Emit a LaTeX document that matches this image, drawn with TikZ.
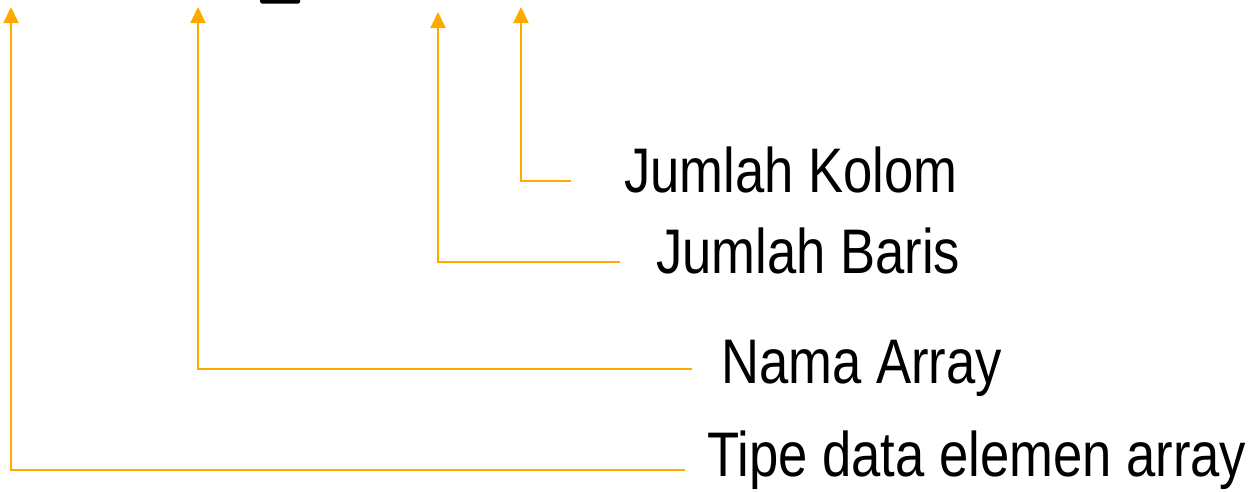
\documentclass[tikz,border=0pt]{standalone}
\usepackage{fontspec}
\newfontfamily\labelfont[FakeStretch=0.835]{Liberation Sans}
\usetikzlibrary{arrows.meta}
\definecolor{lineorange}{HTML}{FFA800}
\tikzset{
  x=1pt, y=-1pt,
  lbl/.style={anchor=base west, inner sep=0pt, font=\labelfont\fontsize{63}{63}\selectfont},
  conn/.style={draw=lineorange, line width=2pt, -{Triangle[width=15pt,length=16pt]}}
}
\begin{document}
\begin{tikzpicture}
\useasboundingbox (0,0) rectangle (1249,491);
% cropped black mark at top
\fill[black, rounded corners=1.5pt] (260,-5) rectangle (300,3.5);
% labels
\node[lbl] (kolom) at (624,192) {Jumlah Kolom};
\node[lbl] (baris) at (656,273) {Jumlah Baris};
\node[lbl] (nama) at (721,383) {Nama Array};
\node[lbl] (tipe) at (707,476) {Tipe data elemen array};
% connector ends
\coordinate (kolomE) at (571,181);
\coordinate (barisE) at (620,262);
\coordinate (namaE) at (692,369);
\coordinate (tipeE) at (685,470);
\coordinate (kolomT) at (521,7);
\coordinate (barisT) at (438,12);
\coordinate (namaT) at (198,7);
\coordinate (tipeT) at (11,7);
% connectors
\draw[conn] (kolomE) -| (kolomT);
\draw[conn] (barisE) -| (barisT);
\draw[conn] (namaE) -| (namaT);
\draw[conn] (tipeE) -| (tipeT);
\end{tikzpicture}
\end{document}
